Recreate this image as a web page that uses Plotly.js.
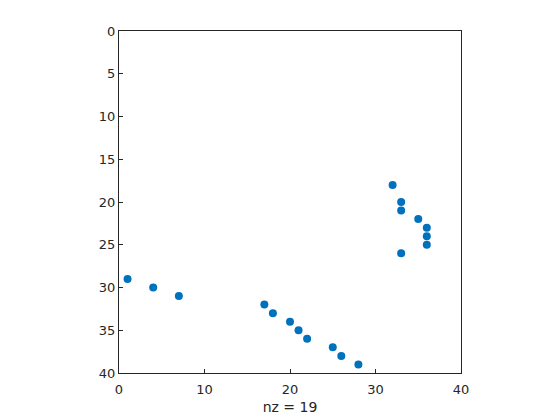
<!DOCTYPE html>
<html>
<head>
<meta charset="utf-8">
<script src="https://cdn.plot.ly/plotly-3.0.1.min.js"></script>
<style>html,body{margin:0;padding:0;background:#fff;}</style>
</head>
<body>
<div id="chart" style="width:560px;height:420px;"></div>
<script>
const colIdx = [1, 4, 7, 17, 18, 20, 21, 22, 25, 26, 28, 32, 33, 33, 35, 36, 36, 36, 33];
const rowIdx = [29, 30, 31, 32, 33, 34, 35, 36, 37, 38, 39, 18, 20, 21, 22, 23, 24, 25, 26];
const xTicks = [0, 10, 20, 30, 40];
const yTicks = [0, 5, 10, 15, 20, 25, 30, 35, 40];
const nzLabel = 'nz = ' + colIdx.length;

const trace = {
  x: colIdx, y: rowIdx, type: 'scatter', mode: 'markers',
  marker: {color: '#0072BD', size: 8, line: {width: 0}},
  hoverinfo: 'none'
};
const axisCommon = {
  showgrid: false, zeroline: false, showline: true, mirror: true,
  linecolor: '#262626', linewidth: 1, ticks: 'inside', ticklen: 4,
  tickcolor: '#262626', tickfont: {family: 'DejaVu Sans, sans-serif', size: 13, color: '#262626'}
};
const layout = {
  width: 560, height: 420,
  margin: {l: 119, r: 99, t: 31, b: 47, pad: 0},
  paper_bgcolor: '#fff', plot_bgcolor: '#fff',
  showlegend: false,
  xaxis: Object.assign({}, axisCommon, {
    range: [0, 40], tickvals: xTicks, ticktext: xTicks.map(String),
    ticklabelstandoff: 4,
    title: {text: nzLabel, font: {family: 'DejaVu Sans, sans-serif', size: 14, color: '#262626'}, standoff: 6}
  }),
  yaxis: Object.assign({}, axisCommon, {
    range: [40, 0], tickvals: yTicks, ticktext: yTicks.map(String)
  })
};
Plotly.newPlot('chart', [trace], layout, {staticPlot: true, displayModeBar: false});
</script>
</body>
</html>
